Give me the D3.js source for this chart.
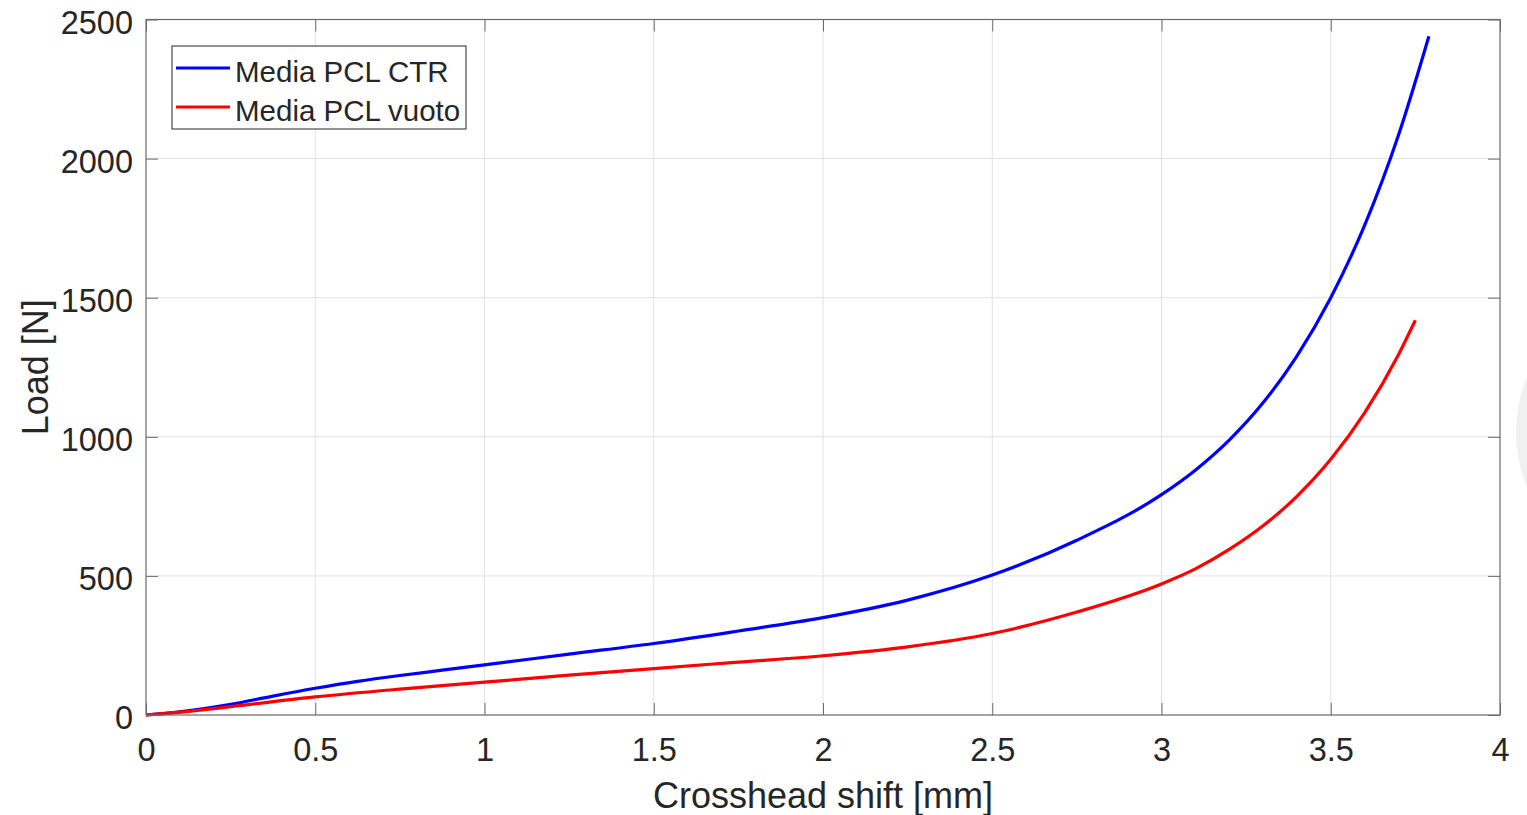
<!DOCTYPE html>
<html>
<head>
<meta charset="utf-8">
<script src="https://cdn.jsdelivr.net/npm/d3@7"></script>
<style>
    body { margin: 0; background: #fff; overflow: hidden; }
    text { font-family: "Liberation Sans", Arial, Helvetica, sans-serif; fill: #262626; }
</style>
</head>
<body>
<svg id="chart" width="1527" height="815"></svg>
<script>
// values
var shiftCTR = [0, 0.1, 0.25, 0.375, 0.5, 0.625, 0.75, 0.875, 1.0, 1.25, 1.5, 1.75, 2.0, 2.25, 2.5, 2.75, 3.0, 3.1, 3.2, 3.3, 3.4, 3.5, 3.6, 3.7, 3.79];
var loadCTR = [0, 11, 38, 68, 96, 121, 142, 161, 180, 219, 257, 302, 350, 413, 503, 628, 792, 880, 988, 1122, 1290, 1500, 1760, 2084, 2440];
var shiftVuoto = [0, 0.1, 0.25, 0.5, 0.75, 1.0, 1.25, 1.5, 1.75, 2.0, 2.25, 2.5, 2.75, 3.0, 3.1, 3.2, 3.3, 3.4, 3.5, 3.6, 3.7, 3.75];
var loadVuoto = [0, 10, 30, 65, 93, 118, 143, 167, 190, 213, 245, 293, 370, 471, 525, 595, 680, 786, 919, 1086, 1295, 1419];
var seriesNames = ["Media PCL CTR", "Media PCL vuoto"];
var seriesColors = ["#0000ff", "#ff0000"];
var xTicks = [0, 0.5, 1, 1.5, 2, 2.5, 3, 3.5, 4];
var yTicks = [0, 500, 1000, 1500, 2000, 2500];

var svg = d3.select("#chart");
// plot box edges (window.top is reserved, hence the prefix)
var boxL = 146, boxR = 1500, boxT = 19.5, boxB = 715;

var x = d3.scaleLinear().domain([0, 4]).range([boxL, boxR]);
var y = d3.scaleLinear().domain([0, 2500]).range([boxB, boxT]);

// the grey blob cut off at the right edge of the screenshot
svg.append("circle")
    .attr("cx", 1659).attr("cy", 432).attr("r", 143)
    .style("fill", "#f0f0f0");

svg.append("rect")
    .attr("x", boxL).attr("y", boxT)
    .attr("width", boxR - boxL).attr("height", boxB - boxT)
    .style("fill", "#fff");

// grid
var grid = svg.append("g");
grid.selectAll("line.gx")
    .data(xTicks.slice(1, -1))
    .enter().append("line")
    .attr("x1", function(d) { return x(d); })
    .attr("x2", function(d) { return x(d); })
    .attr("y1", boxT).attr("y2", boxB)
    .style("stroke", "#e2e2e2").style("stroke-width", 1);
grid.selectAll("line.gy")
    .data(yTicks.slice(1, -1))
    .enter().append("line")
    .attr("y1", function(d) { return y(d); })
    .attr("y2", function(d) { return y(d); })
    .attr("x1", boxL).attr("x2", boxR)
    .style("stroke", "#e2e2e2").style("stroke-width", 1);

// curves
var series = [
    { name: seriesNames[0], color: seriesColors[0], xs: shiftCTR, ys: loadCTR },
    { name: seriesNames[1], color: seriesColors[1], xs: shiftVuoto, ys: loadVuoto }
];

var line = d3.line()
    .x(function(d) { return x(d[0]); })
    .y(function(d) { return y(d[1]); })
    .curve(d3.curveMonotoneX);

svg.selectAll("path.series")
    .data(series)
    .enter().append("path")
    .attr("class", "series")
    .attr("d", function(s) {
        return line(s.xs.map(function(v, i) { return [v, s.ys[i]]; }));
    })
    .style("fill", "none")
    .style("stroke", function(s) { return s.color; })
    .style("stroke-width", 3.2)
    .style("stroke-linejoin", "round");

// axes, ticks pointing inwards on all four sides
var tickLen = 12;
var axisColor = "#6a6a6a";

var xAxis = svg.append("g")
    .attr("transform", "translate(0," + boxB + ")")
    .call(d3.axisBottom(x).tickValues(xTicks).tickSizeInner(-tickLen).tickSizeOuter(0)
        .tickPadding(23).tickFormat(function(d) { return String(d); }));
var yAxis = svg.append("g")
    .attr("transform", "translate(" + boxL + ",0)")
    .call(d3.axisLeft(y).tickValues(yTicks).tickSizeInner(-tickLen).tickSizeOuter(0)
        .tickPadding(13).tickFormat(function(d) { return String(d); }));
var xTop = svg.append("g")
    .attr("transform", "translate(0," + boxT + ")")
    .call(d3.axisTop(x).tickValues(xTicks).tickSizeInner(-tickLen).tickSizeOuter(0).tickFormat(""));
var yRight = svg.append("g")
    .attr("transform", "translate(" + boxR + ",0)")
    .call(d3.axisRight(y).tickValues(yTicks).tickSizeInner(-tickLen).tickSizeOuter(0).tickFormat(""));

[xAxis, yAxis, xTop, yRight].forEach(function(a) {
    a.select(".domain").remove();
    a.selectAll(".tick line").style("stroke", axisColor).style("stroke-width", 1);
    a.selectAll("text")
        .style("font-family", "'Liberation Sans', Arial, Helvetica, sans-serif")
        .style("font-size", "32.5px")
        .style("fill", "#262626");
});
yAxis.selectAll("text").attr("dy", "0.42em");

svg.append("rect")
    .attr("x", boxL).attr("y", boxT)
    .attr("width", boxR - boxL).attr("height", boxB - boxT)
    .style("fill", "none")
    .style("stroke", axisColor)
    .style("stroke-width", 1.2);

// axis titles
svg.append("text")
    .attr("x", (boxL + boxR) / 2)
    .attr("y", 808)
    .attr("text-anchor", "middle")
    .style("font-size", "36px")
    .text("Crosshead shift [mm]");

svg.append("text")
    .attr("transform", "translate(48," + ((boxT + boxB) / 2) + ") rotate(-90)")
    .attr("text-anchor", "middle")
    .style("font-size", "36px")
    .text("Load [N]");

// legend
var legend = svg.append("g");
legend.append("rect")
    .attr("x", 172).attr("y", 46)
    .attr("width", 294).attr("height", 83)
    .style("fill", "#fff")
    .style("stroke", "#262626")
    .style("stroke-width", 1);

var items = legend.selectAll("g.item")
    .data(series)
    .enter().append("g")
    .attr("class", "item")
    .attr("transform", function(d, i) { return "translate(0," + (i * 39) + ")"; });
items.append("line")
    .attr("x1", 176).attr("x2", 230)
    .attr("y1", 68).attr("y2", 68)
    .style("stroke", function(d) { return d.color; })
    .style("stroke-width", 3.2);
items.append("text")
    .attr("x", 235).attr("y", 81.5)
    .style("font-size", "29.5px")
    .text(function(d) { return d.name; });
</script>
</body>
</html>
